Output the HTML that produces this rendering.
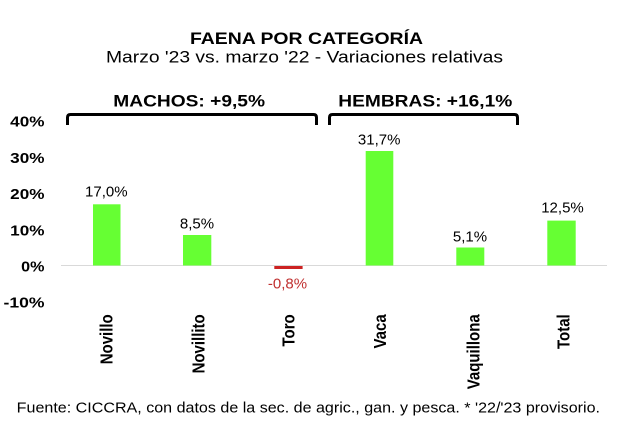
<!DOCTYPE html>
<html>
<head>
<meta charset="utf-8">
<style>
  html,body{margin:0;padding:0;background:#fff;}
  svg{display:block;}
  text{font-family:"Liberation Sans",Arial,sans-serif;}
</style>
</head>
<body>
<svg width="620" height="429" viewBox="0 0 620 429" xmlns="http://www.w3.org/2000/svg">
  <rect width="620" height="429" fill="#fff"/>
  <!-- Titles -->
  <text x="190" y="44" font-size="17" font-weight="bold" fill="#000" textLength="233" lengthAdjust="spacingAndGlyphs">FAENA POR CATEGORÍA</text>
  <text x="106" y="62.7" font-size="16.3" fill="#000" textLength="397" lengthAdjust="spacingAndGlyphs">Marzo '23 vs. marzo '22 - Variaciones relativas</text>

  <!-- Group headers -->
  <text x="113.3" y="106.7" font-size="17" font-weight="bold" fill="#000" textLength="151.7" lengthAdjust="spacingAndGlyphs">MACHOS: +9,5%</text>
  <text x="338.3" y="106.7" font-size="17" font-weight="bold" fill="#000" textLength="174" lengthAdjust="spacingAndGlyphs">HEMBRAS: +16,1%</text>

  <!-- Brackets -->
  <path d="M67.5 125 L67.5 117.5 Q67.5 114.5 70.5 114.5 L313.5 114.5 Q316.5 114.5 316.5 117.5 L316.5 125" fill="none" stroke="#000" stroke-width="3"/>
  <path d="M329.5 125 L329.5 117.5 Q329.5 114.5 332.5 114.5 L514.5 114.5 Q517.5 114.5 517.5 117.5 L517.5 125" fill="none" stroke="#000" stroke-width="3"/>

  <!-- Y axis labels -->
  <g font-size="15" font-weight="bold" fill="#000" text-anchor="end">
    <text x="44.5" y="126.5" textLength="34.3" lengthAdjust="spacingAndGlyphs">40%</text>
    <text x="44.5" y="162.75" textLength="34.3" lengthAdjust="spacingAndGlyphs">30%</text>
    <text x="44.5" y="199" textLength="34.3" lengthAdjust="spacingAndGlyphs">20%</text>
    <text x="44.5" y="235.25" textLength="34.3" lengthAdjust="spacingAndGlyphs">10%</text>
    <text x="44.5" y="271.5" textLength="23.3" lengthAdjust="spacingAndGlyphs">0%</text>
    <text x="44.5" y="307.5" textLength="41" lengthAdjust="spacingAndGlyphs">-10%</text>
  </g>

  <!-- Zero line -->
  <line x1="61" y1="265.5" x2="607" y2="265.5" stroke="#d9d9d9" stroke-width="1"/>

  <!-- Bars -->
  <rect x="93" y="204.3" width="27.5" height="61.2" fill="#66ff33"/>
  <rect x="183" y="235" width="28.3" height="30.5" fill="#66ff33"/>
  <rect x="274.3" y="266" width="28.3" height="3" fill="#cc2222"/>
  <rect x="365.7" y="151" width="27.6" height="114.5" fill="#66ff33"/>
  <rect x="456.3" y="247.5" width="28" height="18" fill="#66ff33"/>
  <rect x="547.3" y="220.6" width="28.4" height="44.9" fill="#66ff33"/>

  <!-- Data labels -->
  <g font-size="15" fill="#000" text-anchor="middle">
    <text x="106.3" y="196.7">17,0%</text>
    <text x="197" y="228.3">8,5%</text>
    <text x="287.5" y="288.3" fill="#c03030">-0,8%</text>
    <text x="379.2" y="144.3">31,7%</text>
    <text x="470" y="241.7">5,1%</text>
    <text x="562.5" y="212.3">12,5%</text>
  </g>

  <!-- Category labels -->
  <g font-size="15" font-weight="bold" fill="#000" text-anchor="end">
    <text transform="translate(112.7,314.3) scale(1.17,1) rotate(-90)">Novillo</text>
    <text transform="translate(204.3,314.3) scale(1.17,1) rotate(-90)">Novillito</text>
    <text transform="translate(294.3,314.3) scale(1.17,1) rotate(-90)">Toro</text>
    <text transform="translate(386,314.3) scale(1.17,1) rotate(-90)">Vaca</text>
    <text transform="translate(479.3,314.3) scale(1.17,1) rotate(-90)">Vaquillona</text>
    <text transform="translate(569.3,314.3) scale(1.17,1) rotate(-90)">Total</text>
  </g>

  <!-- Footer -->
  <text x="16.7" y="412.3" font-size="15" fill="#000" textLength="583.3" lengthAdjust="spacingAndGlyphs">Fuente: CICCRA, con datos de la sec. de agric., gan. y pesca. * '22/'23 provisorio.</text>
</svg>
</body>
</html>
